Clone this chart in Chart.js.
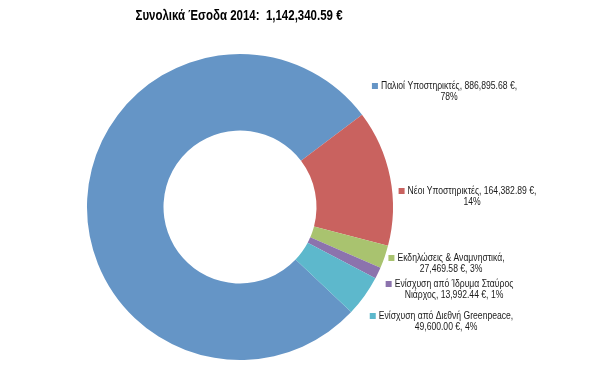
<!DOCTYPE html>
<html>
<head>
<meta charset="utf-8">
<script src="https://cdn.jsdelivr.net/npm/chart.js@4/dist/chart.umd.min.js"></script>
<style>
  html, body { margin: 0; padding: 0; background: #fff; }
  #wrap { width: 605px; height: 388px; position: relative; }
</style>
</head>
<body>
<div id="wrap"><canvas id="chart"></canvas></div>
<script>
// Έσοδα 2014 ανά πηγή
const titleText = 'Συνολικά Έσοδα 2014:  1,142,340.59 €';
const categories = [
  'Παλιοί Υποστηρικτές',
  'Νέοι Υποστηρικτές',
  'Εκδηλώσεις & Αναμνηστικά',
  'Ενίσχυση από Ίδρυμα Σταύρος Νιάρχος',
  'Ενίσχυση από Διεθνή Greenpeace'
];
const amounts = [886895.68, 164382.89, 27469.58, 13992.44, 49600.00];
const percents = [78, 14, 3, 1, 4];
const colors = ['#6595c6', '#c9625f', '#a9c36f', '#8c73ad', '#5db8cc'];

// θέσεις ετικετών (κέντρο πρώτης γραμμής), όπως στο πρωτότυπο
const labelPos = [[449, 86], [472, 191], [451, 258], [454, 284], [446, 316]];

const FONT = "'Liberation Sans', Arial, sans-serif";

function fmt(v) {
  return v.toLocaleString('en-US', { minimumFractionDigits: 2, maximumFractionDigits: 2 });
}

function wrap(ctx, text, maxW, sx) {
  const words = text.split(' ');
  const lines = [];
  let cur = '';
  words.forEach(w => {
    const test = cur ? cur + ' ' + w : w;
    if (ctx.measureText(test).width * sx > maxW && cur) {
      lines.push(cur);
      cur = w;
    } else {
      cur = test;
    }
  });
  if (cur) lines.push(cur);
  return lines;
}

// στενότερη γραφή, για να μοιάζει με Calibri
function narrowText(ctx, txt, x, y, sx) {
  ctx.save();
  ctx.translate(x, y);
  ctx.scale(sx, 1);
  ctx.fillText(txt, 0, 0);
  ctx.restore();
}

const labelsPlugin = {
  id: 'excelLabels',
  afterDraw(chart) {
    const ctx = chart.ctx;
    ctx.save();
    // τίτλος
    ctx.fillStyle = '#000';
    ctx.font = 'bold 14px ' + FONT;
    ctx.textAlign = 'center';
    ctx.textBaseline = 'middle';
    narrowText(ctx, titleText, 239, 16, 0.82);

    const sx = 0.86;
    ctx.font = '10px ' + FONT;
    amounts.forEach((v, i) => {
      const txt = categories[i] + ', ' + fmt(v) + ' €, ' + percents[i] + '%';
      const lines = wrap(ctx, txt, 143, sx);
      const [cx, cy] = labelPos[i];
      ctx.fillStyle = '#1a1a1a';
      ctx.textAlign = 'center';
      lines.forEach((ln, k) => narrowText(ctx, ln, cx, cy + k * 11.5, sx));
      const w0 = ctx.measureText(lines[0]).width * sx;
      ctx.fillStyle = colors[i];
      ctx.fillRect(cx - w0 / 2 - 9, cy - 3, 6, 6);
    });
    ctx.restore();
  }
};

new Chart(document.getElementById('chart'), {
  type: 'doughnut',
  data: {
    labels: categories,
    datasets: [{
      data: amounts,
      backgroundColor: colors,
      borderWidth: 0
    }]
  },
  options: {
    responsive: true,
    maintainAspectRatio: false,
    animation: false,
    cutout: '50%',
    rotation: 133.4,
    layout: { padding: { left: 87, right: 212, top: 54, bottom: 28 } },
    plugins: {
      legend: { display: false },
      tooltip: { enabled: false }
    }
  },
  plugins: [labelsPlugin]
});
</script>
</body>
</html>
